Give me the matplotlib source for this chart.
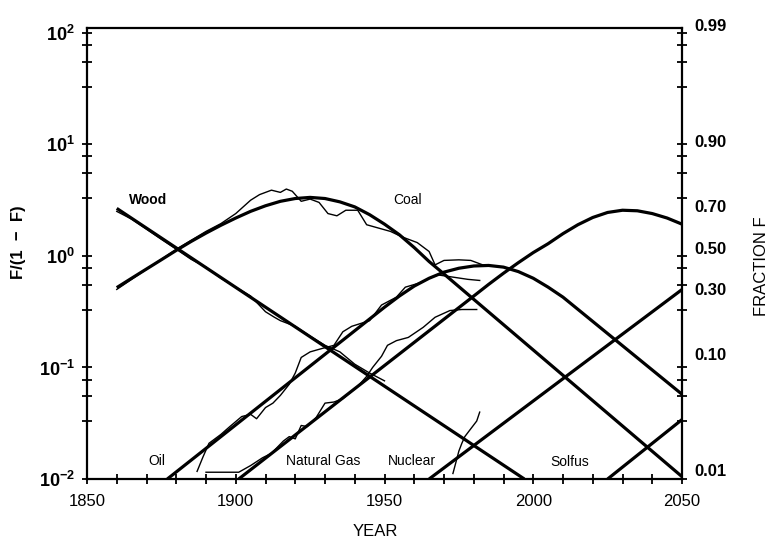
import matplotlib
matplotlib.use('Agg')
import matplotlib.pyplot as plt
from matplotlib.ticker import FixedLocator, FixedFormatter, NullFormatter

plt.rcParams['font.family'] = ['Liberation Sans', 'DejaVu Sans']
plt.rcParams['mathtext.fontset'] = 'custom'
plt.rcParams['mathtext.rm'] = 'Liberation Sans:bold'
plt.rcParams['mathtext.bf'] = 'Liberation Sans:bold'

# ---------------- model curves (F/(1-F)) ----------------
wood_years = [1860, 1997]
wood_vals = [2.67, 0.0100]

coal_years = [1860, 1865, 1870, 1875, 1880, 1885, 1890, 1895, 1900, 1905, 1910, 1915,
              1920, 1925, 1930, 1935, 1940, 1945, 1950, 1955, 1960, 1965, 1970, 2050]
coal_vals = [0.520, 0.631, 0.764, 0.925, 1.122, 1.349, 1.603, 1.884, 2.188, 2.512, 2.818, 3.090,
             3.273, 3.350, 3.273, 3.055, 2.754, 2.344, 1.928, 1.549, 1.189, 0.891, 0.689, 0.0105]

oil_years = [1877, 1950, 1955, 1960, 1965, 1970, 1975, 1980, 1985, 1990, 1995, 2000, 2005, 2010, 2050]
oil_vals = [0.0100, 0.347, 0.437, 0.537, 0.631, 0.716, 0.776, 0.813, 0.822, 0.794, 0.724, 0.631,
            0.525, 0.427, 0.0575]

gas_years = [1901, 1980, 1985, 1990, 1995, 2000, 2005, 2010, 2015, 2020, 2025, 2030, 2035, 2040, 2045, 2050]
gas_vals = [0.0100, 0.437, 0.556, 0.700, 0.871, 1.072, 1.288, 1.585, 1.905, 2.213, 2.455, 2.570,
            2.541, 2.399, 2.188, 1.928]

nuclear_years = [1965, 2050]
nuclear_vals = [0.0100, 0.500]

solfus_years = [2025, 2050]
solfus_vals = [0.0100, 0.0341]

# ---------------- historical data (thin lines) ----------------
wood_data_years = [1860, 1865, 1870, 1875, 1880, 1885, 1890, 1895, 1900, 1905, 1910, 1913,
                   1915, 1920, 1925, 1930, 1935, 1940, 1945, 1950]
wood_data_vals = [2.51, 2.14, 1.74, 1.41, 1.15, 0.933, 0.794, 0.631, 0.525, 0.437, 0.316, 0.282,
                  0.263, 0.234, 0.191, 0.158, 0.138, 0.107, 0.0891, 0.0759]

coal_data_years = [1860, 1865, 1870, 1875, 1880, 1885, 1890, 1895, 1900, 1905, 1908, 1912, 1915,
                   1917, 1919, 1922, 1925, 1928, 1931, 1934, 1937, 1941, 1944, 1948, 1952, 1956,
                   1961, 1965, 1967, 1970, 1975, 1979, 1983]
coal_data_vals = [0.501, 0.617, 0.759, 0.933, 1.148, 1.380, 1.660, 1.950, 2.399, 3.162, 3.548,
                  3.890, 3.715, 3.981, 3.802, 3.090, 3.236, 3.020, 2.399, 2.291, 2.570, 2.570,
                  1.905, 1.778, 1.660, 1.479, 1.318, 1.096, 0.832, 0.912, 0.923, 0.912, 0.832]

oil_data_years = [1887, 1889, 1891, 1895, 1898, 1902, 1905, 1907, 1910, 1912.5, 1915, 1918, 1920,
                  1922, 1925, 1929, 1933, 1936, 1939, 1945, 1949, 1954, 1957, 1962, 1965, 1968,
                  1973, 1978, 1982]
oil_data_vals = [0.0117, 0.0158, 0.0209, 0.0251, 0.0295, 0.0363, 0.0380, 0.0347, 0.0437, 0.0479,
                 0.0562, 0.0708, 0.0891, 0.123, 0.138, 0.148, 0.158, 0.209, 0.234, 0.263, 0.363,
                 0.427, 0.525, 0.575, 0.631, 0.676, 0.646, 0.617, 0.603]

gas_data_years = [1890, 1901, 1905, 1909, 1912, 1916, 1918, 1920, 1922, 1924, 1927, 1930, 1933,
                  1936, 1941, 1944, 1946, 1949, 1951, 1954, 1958, 1963, 1967, 1972, 1976, 1981]
gas_data_vals = [0.0115, 0.0115, 0.0132, 0.0155, 0.0170, 0.0219, 0.0240, 0.0229, 0.0302, 0.0295,
                 0.0355, 0.0479, 0.0490, 0.0525, 0.0676, 0.0832, 0.100, 0.126, 0.158, 0.174,
                 0.186, 0.229, 0.282, 0.324, 0.331, 0.331]

nuclear_data_years = [1973, 1974, 1975, 1976, 1977, 1979, 1981, 1982]
nuclear_data_vals = [0.0112, 0.0141, 0.0178, 0.0209, 0.0240, 0.0282, 0.0331, 0.0398]

# ---------------- labels / ticks ----------------
curve_labels = ['Wood', 'Coal', 'Oil', 'Natural Gas', 'Nuclear', 'Solfus']
label_x = [1870.5, 1957.6, 1873.5, 1929.3, 1959.2, 2012.4]
label_y = [3.18, 3.18, 0.0145, 0.0145, 0.0145, 0.0142]

year_ticks = [1850, 1900, 1950, 2000, 2050]
year_minor = [1860, 1870, 1880, 1890, 1910, 1920, 1930, 1940, 1960, 1970, 1980, 1990,
              2010, 2020, 2030, 2040]
ratio_ticks = [0.01, 0.1, 1, 10, 100]
ratio_tick_labels = [r'$\mathbf{10^{-2}}$', r'$\mathbf{10^{-1}}$', r'$\mathbf{10^{0}}$',
                     r'$\mathbf{10^{1}}$', r'$\mathbf{10^{2}}$']
ratio_minor = [0.033, 0.055, 0.078, 0.33, 0.55, 0.78, 3.3, 5.5, 7.8, 33, 55, 78]
fraction_ticks = [0.99, 0.90, 0.70, 0.50, 0.30, 0.10, 0.01]
fraction_labels = ['0.99', '0.90', '0.70', '0.50', '0.30', '0.10', '0.01']

# ---------------- figure ----------------
fig = plt.figure(figsize=(7.7, 5.38), dpi=100)
ax = fig.add_axes([87 / 770, 59 / 538, 595 / 770, 451 / 538])
ax.set_yscale('log')
ax.set_xlim(1850, 2050)
ax.set_ylim(0.01, 10 ** 2.044)

model_kw = dict(color='black', lw=2.3, solid_capstyle='butt', solid_joinstyle='round')
data_kw = dict(color='black', lw=1.0, solid_joinstyle='round')

for yrs, vals in [(wood_years, wood_vals), (coal_years, coal_vals), (oil_years, oil_vals),
                  (gas_years, gas_vals), (nuclear_years, nuclear_vals), (solfus_years, solfus_vals)]:
    ax.plot(yrs, vals, **model_kw)

for yrs, vals in [(wood_data_years, wood_data_vals), (coal_data_years, coal_data_vals),
                  (oil_data_years, oil_data_vals), (gas_data_years, gas_data_vals),
                  (nuclear_data_years, nuclear_data_vals)]:
    ax.plot(yrs, vals, **data_kw)

for txt, x, y in zip(curve_labels, label_x, label_y):
    ax.text(x, y, txt, ha='center', va='center', fontsize=10,
            fontweight='bold' if txt == 'Wood' else 'normal')

# axes styling
for s in ax.spines.values():
    s.set_linewidth(1.6)
ax.xaxis.set_major_locator(FixedLocator(year_ticks))
ax.xaxis.set_minor_locator(FixedLocator(year_minor))
ax.xaxis.set_minor_formatter(NullFormatter())
ax.yaxis.set_major_locator(FixedLocator(ratio_ticks))
ax.yaxis.set_major_formatter(FixedFormatter(ratio_tick_labels))
ax.yaxis.set_minor_locator(FixedLocator(ratio_minor))
ax.yaxis.set_minor_formatter(NullFormatter())
ax.tick_params(axis='both', which='both', direction='inout', length=7, width=1.3, color='black')
ax.tick_params(axis='y', which='both', left=True, right=True, labelsize=13, pad=5)
ax.tick_params(axis='x', which='both', bottom=True, top=False, labelsize=12, pad=7)

for lab, f in zip(fraction_labels, fraction_ticks):
    ax.annotate(lab, xy=(1, f / (1 - f)), xycoords=('axes fraction', 'data'),
                xytext=(9, 5), textcoords='offset points', ha='left', va='center',
                fontsize=12, fontweight='bold', annotation_clip=False)

fig.text(375 / 770, 1 - 531 / 538, 'YEAR', ha='center', va='center', fontsize=12)
fig.text(19 / 770, 1 - 242 / 538, 'F/(1  \u2212  F)', ha='center', va='center', fontsize=12,
         fontweight='bold', rotation=90)
fig.text(762 / 770, 1 - 266 / 538, 'FRACTION F', ha='center', va='center', fontsize=12,
         rotation=90)

fig.savefig('out.png', dpi=100)
